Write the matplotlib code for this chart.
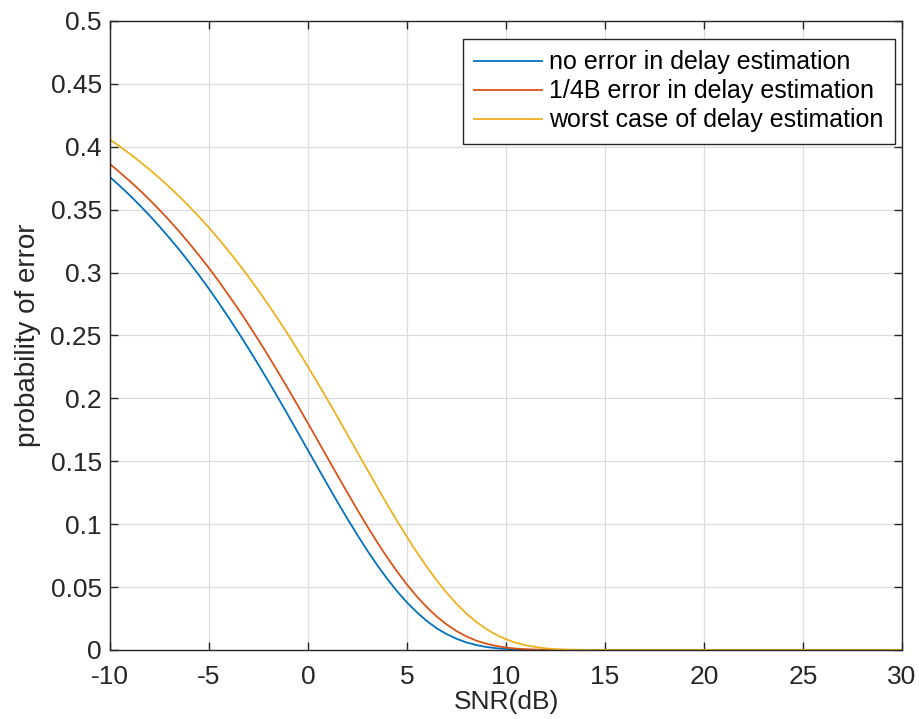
import numpy as np
import matplotlib
matplotlib.use("Agg")
import matplotlib.pyplot as plt

plt.rcParams['font.family'] = ['Liberation Sans', 'DejaVu Sans']

# SNR axis in dB, half-dB steps
snr_db = np.arange(-10, 30.5, 0.5)

# error probability, no delay estimation error
p_no_error = [0.3759, 0.3688, 0.3614, 0.3535, 0.3453, 0.3366, 0.3275, 0.3181, 0.3081, 0.2978,
              0.2870, 0.2757, 0.2640, 0.2519, 0.2395, 0.2266, 0.2135, 0.2001, 0.1864, 0.1725,
              0.1587, 0.1448, 0.1309, 0.1173, 0.1040, 0.0912, 0.0789, 0.0673, 0.0565, 0.0466,
              0.0377, 0.0299, 0.0230, 0.0172, 0.0126, 0.0089, 0.0060, 0.0039, 0.0024, 0.0014,
              0.0008, 0.0004, 0.0002, 0.0001, 0.00003, 0, 0, 0, 0, 0,
              0, 0, 0, 0, 0, 0, 0, 0, 0, 0,
              0, 0, 0, 0, 0, 0, 0, 0, 0, 0,
              0, 0, 0, 0, 0, 0, 0, 0, 0, 0, 0]

# error probability, 1/4B delay error
p_quarter_b = [0.3862, 0.3796, 0.3727, 0.3655, 0.3578, 0.3498, 0.3414, 0.3325, 0.3233, 0.3136,
               0.3035, 0.2929, 0.2818, 0.2704, 0.2586, 0.2463, 0.2337, 0.2206, 0.2074, 0.1938,
               0.1801, 0.1662, 0.1523, 0.1385, 0.1247, 0.1112, 0.0981, 0.0855, 0.0735, 0.0623,
               0.0519, 0.0424, 0.0340, 0.0266, 0.0203, 0.0150, 0.0108, 0.0074, 0.0050, 0.0032,
               0.0019, 0.0011, 0.0006, 0.0003, 0.0001, 0.0001, 0, 0, 0, 0,
               0, 0, 0, 0, 0, 0, 0, 0, 0, 0,
               0, 0, 0, 0, 0, 0, 0, 0, 0, 0,
               0, 0, 0, 0, 0, 0, 0, 0, 0, 0, 0]

# error probability, worst-case delay error
p_worst = [0.4057, 0.4002, 0.3944, 0.3883, 0.3819, 0.3751, 0.3680, 0.3605, 0.3526, 0.3443,
           0.3356, 0.3265, 0.3169, 0.3069, 0.2965, 0.2856, 0.2743, 0.2626, 0.2505, 0.2380,
           0.2251, 0.2119, 0.1985, 0.1848, 0.1709, 0.1570, 0.1431, 0.1293, 0.1157, 0.1024,
           0.0897, 0.0775, 0.0660, 0.0553, 0.0455, 0.0367, 0.0289, 0.0223, 0.0167, 0.0121,
           0.0085, 0.0057, 0.0037, 0.0023, 0.0013, 0.0007, 0.0004, 0.0002, 0.0001, 0,
           0, 0, 0, 0, 0, 0, 0, 0, 0, 0,
           0, 0, 0, 0, 0, 0, 0, 0, 0, 0,
           0, 0, 0, 0, 0, 0, 0, 0, 0, 0, 0]

labels = ["no error in delay estimation",
          "1/4B error in delay estimation",
          "worst case of delay estimation"]
colors = ["#0072bd", "#d95319", "#edb120"]

xticks = [-10, -5, 0, 5, 10, 15, 20, 25, 30]
yticks = [0, 0.05, 0.1, 0.15, 0.2, 0.25, 0.3, 0.35, 0.4, 0.45, 0.5]
ytick_labels = ["0", "0.05", "0.1", "0.15", "0.2", "0.25", "0.3", "0.35", "0.4", "0.45", "0.5"]

fig = plt.figure(figsize=(9.2, 7.19), dpi=100)
ax = fig.add_axes([0.1196, 0.096, 0.8609, 0.8748])

for y, lab, c in zip([p_no_error, p_quarter_b, p_worst], labels, colors):
    ax.plot(snr_db, y, color=c, lw=1.3, label=lab)

ax.set_xlim(-10, 30)
ax.set_ylim(0, 0.5)
ax.set_xticks(xticks)
ax.set_xticklabels([str(t) for t in xticks])
ax.set_yticks(yticks)
ax.set_yticklabels(ytick_labels)
ax.grid(True, color="#dcdcdc", lw=0.9)
ax.set_axisbelow(True)
ax.tick_params(direction="in", top=True, right=True, length=5.5, width=1,
               labelsize=19, colors="#262626")
ax.tick_params(axis="x", pad=10.5)
ax.tick_params(axis="y", pad=6)
for s in ax.spines.values():
    s.set_color("#262626")
    s.set_linewidth(1)

ax.set_xlabel("SNR(dB)", fontsize=19, color="#262626", labelpad=1)
ax.set_ylabel("probability of error", fontsize=20, color="#262626", labelpad=7)

leg = ax.legend(loc="upper right", bbox_to_anchor=(0.991, 0.971), fontsize=18,
                frameon=True, fancybox=False, edgecolor="#262626", framealpha=1,
                handlelength=2.7, handletextpad=0.3, borderpad=0.45, labelspacing=0.2,
                borderaxespad=0)
leg.get_frame().set_linewidth(1)

fig.savefig("out.png", dpi=100)
